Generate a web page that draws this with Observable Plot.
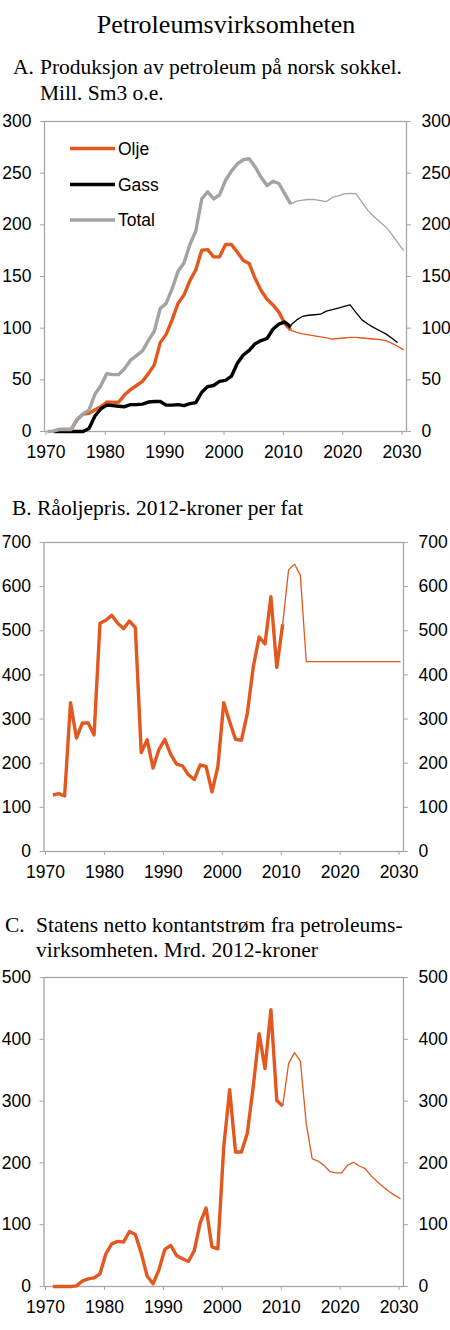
<!DOCTYPE html>
<html lang="no">
<head>
<meta charset="utf-8">
<title>Petroleumsvirksomheten</title>
<script src="https://cdn.jsdelivr.net/npm/d3@7"></script>
<script src="https://cdn.jsdelivr.net/npm/@observablehq/plot@0.6"></script>
<style>
html,body{margin:0;padding:0;background:#fff;}
#page{position:relative;width:450px;height:1330px;overflow:hidden;background:#fff;}
#page svg.panel{position:absolute;left:0;}
#overlay{position:absolute;left:0;top:0;pointer-events:none;}
.serif{font-family:"Liberation Serif","Times New Roman",serif;fill:#000;}
.sans{font-family:"Liberation Sans",Arial,sans-serif;fill:#000;}
</style>
</head>
<body>
<div id="page"></div>
<script>
// ---------- Data ----------
const xTicks = [1970, 1980, 1990, 2000, 2010, 2020, 2030];

// A. Produksjon (mill. Sm3 o.e.)
const totalYears = d3.range(1970, 2012);
const totalHist = [0, 0.4, 1.9, 1.9, 2.0, 12, 17, 21, 36, 44.5, 56, 55, 55, 61, 69, 73.5, 78, 88, 97, 119,
  124, 138, 155, 163, 181, 194, 225, 232, 225, 229, 243, 252, 259, 263, 264, 256, 246, 238, 242, 240, 230, 220];
const prodYears = d3.range(1971, 2012);
const oilHist = [0.4, 1.9, 1.9, 2.0, 11.5, 17, 17.5, 21, 24, 28.5, 28, 28.5, 35.5, 40.5, 44.5, 48.5, 56, 64.5, 86, 94,
  108, 124, 132, 146, 156.5, 175.5, 176, 169, 169, 181, 181, 173.5, 165.5, 162.5, 148, 136.5, 128, 122.5, 115.5, 104.5, 98];
const gasHist = [0, 0, 0, 0, 0, 0, 3, 15, 22, 25.5, 25, 24.5, 24, 26, 26, 26.5, 28.5, 29, 29, 25.5,
  25.5, 26, 25, 27, 28, 38, 43.5, 44.5, 48.5, 49.5, 53.5, 66, 74, 78.5, 85, 88, 90, 99, 104, 106, 101];
const projYearsA = d3.range(2011, 2031);
const oilProj = [98, 96, 94.5, 93.5, 92.5, 91.5, 90.5, 89.5, 90, 90.5, 91, 91, 90.5, 90, 89.5, 89, 88, 85.5, 82.5, 79];
const totalProj = [220, 223, 224, 224.5, 224.5, 223.5, 222.5, 226.5, 228, 230, 230.5, 230, 222, 214, 208, 203, 198, 191, 183, 175];
const gasProjYears = d3.range(2011, 2030);
const gasProj = [103, 108, 111.5, 112.5, 113, 113.5, 116.5, 118, 119.5, 121, 122.5, 115, 108, 104, 100.5, 97.5, 94.5, 90.5, 86];
const yTicksA = [0, 50, 100, 150, 200, 250, 300];

// B. Råoljepris (2012-kroner per fat)
const priceYears = d3.range(1971, 2011);
const priceHist = [128, 131, 126, 337, 257, 291, 291, 264, 517, 524, 535, 517, 505, 522, 507, 224, 253, 189, 231, 254,
  220, 198, 194, 174, 163, 196, 193, 135, 192, 337, 294, 254, 252, 313, 417, 486, 470, 577, 417, 515];
const priceProjYears = d3.range(2010, 2031);
const priceProj = [515, 638, 651, 626, 430, 430, 430, 430, 430, 430, 430, 430, 430, 430, 430, 430, 430, 430, 430, 430, 430];
const yTicksB = [0, 100, 200, 300, 400, 500, 600, 700];

// C. Statens netto kontantstrøm (mrd. 2012-kroner)
const cashYears = d3.range(1971, 2011);
const cashHist = [0, 0, 0, 0, 1, 8.6, 12.4, 14, 20.5, 53, 69, 73, 72, 89, 84, 54, 17, 4.3, 27, 60,
  66.4, 50, 45, 40.5, 58, 103, 127, 64, 61, 226, 318.6, 217.6, 217.6, 248, 323, 409, 352.6, 448, 301, 292];
const cashProjYears = d3.range(2010, 2031);
const cashProj = [292, 360.7, 378.5, 364.5, 263.5, 207, 203, 196, 186, 184, 184, 196, 201, 195, 190.6, 179, 170, 162, 154, 147.4, 142];
const yTicksC = [0, 100, 200, 300, 400, 500];

// ---------- Styles ----------
const ORANGE = "#e2581f";
const BLACK = "#000000";
const GRAY = "#a3a3a3";
const AXIS = "#a6a6a6";
const THICK = 3.4;
const THIN = 1.3;

const rows = (years, values) => years.map((year, i) => ({year, value: values[i]}));

function line(years, values, stroke, strokeWidth) {
  return Plot.line(rows(years, values), {
    x: d => d.year + 0.5, y: "value", stroke, strokeWidth,
    strokeLinejoin: "round", strokeLinecap: "butt"
  });
}

function panel({top, plotHeight, marginLeft, marginRight, yDomain, yTicks, lines}) {
  const marginTop = 10, marginBottom = 36;
  const svg = Plot.plot({
    width: 450,
    height: marginTop + plotHeight + marginBottom,
    marginTop, marginBottom, marginLeft, marginRight,
    style: {fontFamily: '"Liberation Sans", Arial, sans-serif', fontSize: "17.5px", background: "transparent", color: "#000", overflow: "visible"},
    x: {domain: [1970, 2031]},
    y: {domain: yDomain},
    marks: [
      Plot.frame({stroke: AXIS, strokeWidth: 1.3}),
      Plot.axisX(xTicks, {tickSize: 4, tickPadding: 10, dx: 1.5, tickFormat: d => String(d), stroke: AXIS, fill: "#000", label: null}),
      Plot.axisY(yTicks, {anchor: "left", tickSize: 4, tickPadding: 9, stroke: AXIS, fill: "#000", label: null}),
      Plot.axisY(yTicks, {anchor: "right", tickSize: 4, tickPadding: 11, stroke: AXIS, fill: "#000", label: null}),
      ...lines
    ]
  });
  svg.classList.add("panel");
  svg.style.top = (top - marginTop) + "px";
  return svg;
}

const page = document.getElementById("page");

page.appendChild(panel({
  top: 121, plotHeight: 310, marginLeft: 44, marginRight: 44,
  yDomain: [0, 300], yTicks: yTicksA,
  lines: [
    line(prodYears, oilHist, ORANGE, THICK),
    line(projYearsA, oilProj, ORANGE, THIN),
    line(prodYears, gasHist, BLACK, THICK),
    line(gasProjYears, gasProj, BLACK, THIN),
    line(totalYears, totalHist, GRAY, THICK),
    line(projYearsA, totalProj, GRAY, THIN)
  ]
}));

page.appendChild(panel({
  top: 542, plotHeight: 309, marginLeft: 43.5, marginRight: 47,
  yDomain: [0, 700], yTicks: yTicksB,
  lines: [
    line(priceYears, priceHist, ORANGE, THICK),
    line(priceProjYears, priceProj, ORANGE, THIN)
  ]
}));

page.appendChild(panel({
  top: 977, plotHeight: 309, marginLeft: 43.5, marginRight: 47,
  yDomain: [0, 500], yTicks: yTicksC,
  lines: [
    line(cashYears, cashHist, ORANGE, THICK),
    line(cashProjYears, cashProj, ORANGE, THIN)
  ]
}));

// ---------- Titles and legend ----------
const ns = "http://www.w3.org/2000/svg";
const overlay = document.createElementNS(ns, "svg");
overlay.setAttribute("id", "overlay");
overlay.setAttribute("width", 450);
overlay.setAttribute("height", 1330);
page.appendChild(overlay);

function text(str, x, y, cls, size, anchor = "start") {
  const t = document.createElementNS(ns, "text");
  t.setAttribute("x", x); t.setAttribute("y", y);
  t.setAttribute("class", cls);
  t.setAttribute("font-size", size);
  t.setAttribute("text-anchor", anchor);
  t.textContent = str;
  overlay.appendChild(t);
}
function seg(x1, x2, y, stroke, w) {
  const l = document.createElementNS(ns, "line");
  l.setAttribute("x1", x1); l.setAttribute("x2", x2);
  l.setAttribute("y1", y); l.setAttribute("y2", y);
  l.setAttribute("stroke", stroke); l.setAttribute("stroke-width", w);
  overlay.appendChild(l);
}

text("Petroleumsvirksomheten", 226, 33, "serif", 26, "middle");

text("A.", 13, 74, "serif", 21.5);
text("Produksjon av petroleum på norsk sokkel.", 40, 74, "serif", 21.5);
text("Mill. Sm3 o.e.", 40, 100, "serif", 21.5);

text("B.", 12, 515, "serif", 21.5);
text("Råoljepris. 2012-kroner per fat", 37, 515, "serif", 21.5);

text("C.", 5, 932, "serif", 21.5);
text("Statens netto kontantstrøm fra petroleums-", 36, 932, "serif", 21.5);
text("virksomheten. Mrd. 2012-kroner", 36, 957, "serif", 21.5);

const legendItems = [
  {label: "Olje", color: ORANGE, y: 148.5},
  {label: "Gass", color: BLACK, y: 184.5},
  {label: "Total", color: GRAY, y: 220}
];
for (const it of legendItems) {
  seg(70, 115, it.y, it.color, THICK);
  text(it.label, 118, it.y + 6, "sans", 17.5);
}
</script>
</body>
</html>
